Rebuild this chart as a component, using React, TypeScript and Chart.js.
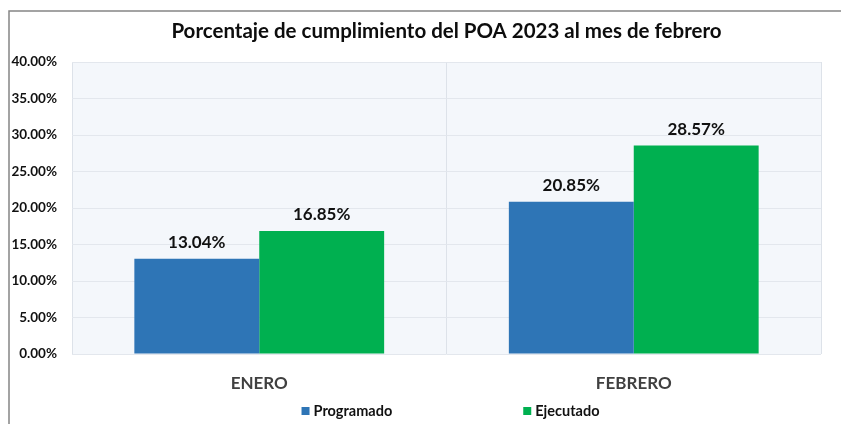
import React, { useEffect, useRef } from "react";
import { Chart, registerables } from "chart.js";

Chart.register(...registerables);

const categories = ["ENERO", "FEBRERO"];
const programado = [13.04, 20.85];
const ejecutado = [16.85, 28.57];
const seriesNames = ["Programado", "Ejecutado"];
const seriesColors = ["#2E75B6", "#00B050"];
const titleText = "Porcentaje de cumplimiento del POA 2023 al mes de febrero";
const yMin = 0;
const yMax = 40;
const yStep = 5;

const FONT = "Lato, 'Open Sans', sans-serif";

const decorPlugin = {
  id: "decor",
  beforeDraw(chart: any) {
    const { ctx, chartArea: a } = chart;
    ctx.save();
    ctx.fillStyle = "#ffffff";
    ctx.fillRect(0, 0, chart.width, chart.height);
    ctx.fillStyle = "#F4F7FB";
    ctx.fillRect(a.left, a.top, a.right - a.left, a.bottom - a.top);
    ctx.restore();
  },
  afterDatasetsDraw(chart: any) {
    const { ctx } = chart;
    ctx.save();
    ctx.font = `bold 17px ${FONT}`;
    ctx.fillStyle = "#111111";
    ctx.textAlign = "center";
    ctx.textBaseline = "middle";
    chart.data.datasets.forEach((ds: any, i: number) => {
      const meta = chart.getDatasetMeta(i);
      meta.data.forEach((el: any, j: number) => {
        const v = ds.data[j];
        ctx.fillText(v.toFixed(2) + "%", el.x, el.y - 16);
      });
    });
    ctx.restore();
  },
  afterDraw(chart: any) {
    const { ctx, chartArea: a } = chart;
    ctx.save();
    // outer frame (top and left edges visible)
    ctx.strokeStyle = "#858585";
    ctx.lineWidth = 1.5;
    ctx.beginPath();
    ctx.moveTo(9, chart.height);
    ctx.lineTo(9, 11);
    ctx.lineTo(chart.width, 11);
    ctx.stroke();

    const cx = (a.left + a.right) / 2;
    // title
    ctx.font = `bold 20.5px ${FONT}`;
    ctx.fillStyle = "#0d0d0d";
    ctx.textAlign = "center";
    ctx.textBaseline = "middle";
    ctx.fillText(titleText, cx, 31);

    // legend
    ctx.font = `bold 14.5px ${FONT}`;
    ctx.textBaseline = "middle";
    ctx.textAlign = "left";
    const box = 8;
    const gapBox = 4;
    const spacing = 131;
    const widths = seriesNames.map((n) => box + gapBox + ctx.measureText(n).width);
    const total = widths[0] + spacing + widths[1];
    let x = cx + 4 - total / 2;
    const y = 411;
    seriesNames.forEach((n, i) => {
      ctx.fillStyle = seriesColors[i];
      ctx.fillRect(x, y - box / 2, box, box);
      ctx.fillStyle = "#111111";
      ctx.fillText(n, x + box + gapBox, y);
      x += widths[i] + spacing;
    });
    ctx.restore();
  },
};

export default function App() {
  const ref = useRef<HTMLCanvasElement | null>(null);
  useEffect(() => {
    if (!ref.current) return;
    const chart = new Chart(ref.current, {
      type: "bar",
      data: {
        labels: categories,
        datasets: [
          {
            label: seriesNames[0],
            data: programado,
            backgroundColor: seriesColors[0],
            borderWidth: 0,
            categoryPercentage: 0.667,
            barPercentage: 1,
          },
          {
            label: seriesNames[1],
            data: ejecutado,
            backgroundColor: seriesColors[1],
            borderWidth: 0,
            categoryPercentage: 0.667,
            barPercentage: 1,
          },
        ],
      },
      options: {
        animation: false,
        responsive: false,
        layout: { padding: { left: 0, top: 62, right: 20, bottom: 30 } },
        plugins: {
          legend: { display: false },
          title: { display: false },
          tooltip: { enabled: false },
        },
        scales: {
          x: {
            grid: { offset: true, color: "#DDE2E9", drawTicks: false },
            border: { display: false },
            ticks: {
              padding: 19,
              color: "#404040",
              font: { family: FONT, size: 17, weight: "bold" },
            },
            afterFit(scale: any) {
              scale.height = 40;
            },
          },
          y: {
            min: yMin,
            max: yMax,
            grid: { color: "#E3E7ED", drawTicks: false },
            border: { display: false },
            ticks: {
              stepSize: yStep,
              padding: 15,
              color: "#111111",
              font: { family: FONT, size: 13.5, weight: "bold" },
              callback: (v: any) => Number(v).toFixed(2) + "%",
            },
            afterFit(scale: any) {
              scale.width = 72;
            },
          },
        },
      },
      plugins: [decorPlugin],
    });
    return () => chart.destroy();
  }, []);
  return (
    <div style={{ position: "fixed", left: 0, top: 0, width: 841, height: 424 }}>
      <canvas ref={ref} width={841} height={424} style={{ display: "block" }} />
    </div>
  );
}
